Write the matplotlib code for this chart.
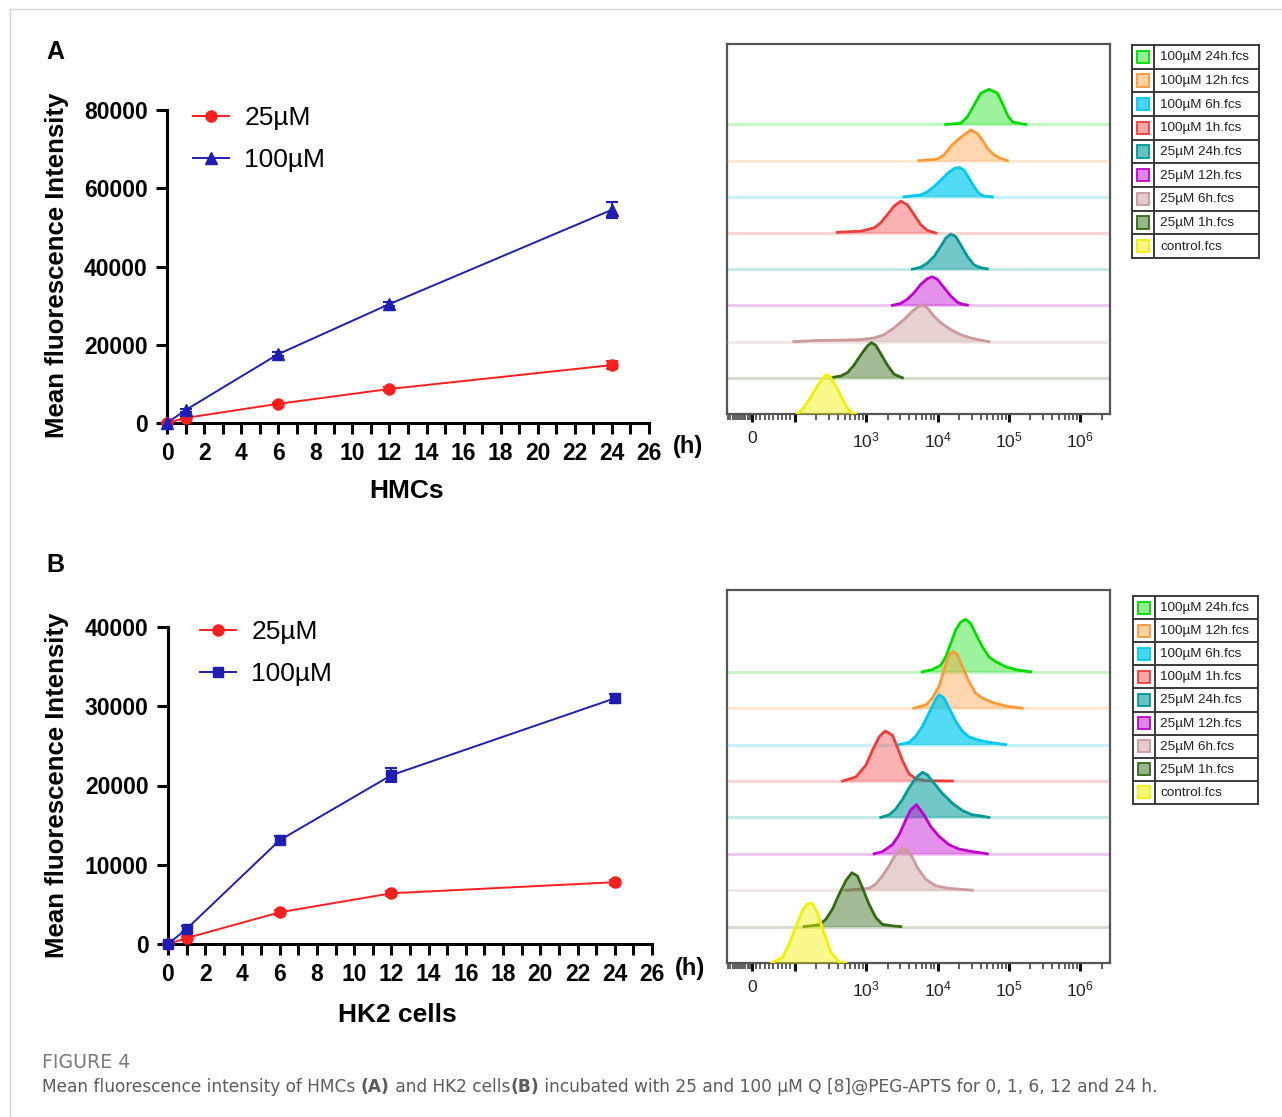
import numpy as np
import matplotlib
matplotlib.use('Agg')
import matplotlib.pyplot as plt
from matplotlib.patches import Rectangle
from matplotlib.lines import Line2D

plt.rcParams['font.family'] = ['Liberation Sans', 'DejaVu Sans']
plt.rcParams['mathtext.fontset'] = 'custom'
plt.rcParams['mathtext.rm'] = 'Liberation Sans'

# ---------------- line-chart data ----------------
time_h = [0, 1, 6, 12, 24]
hmc_25 = [0, 1300, 4900, 8700, 14800]
hmc_25_err = [0, 300, 300, 400, 1000]
hmc_100 = [0, 3300, 17600, 30400, 54500]
hmc_100_err = [0, 400, 500, 600, 2000]
hk2_25 = [0, 750, 4000, 6400, 7800]
hk2_25_err = [0, 300, 300, 300, 300]
hk2_100 = [0, 1900, 13100, 21300, 31000]
hk2_100_err = [0, 400, 500, 900, 600]

# ---------------- flow histogram data ----------------
hist_labels = ['100µM 24h.fcs', '100µM 12h.fcs', '100µM 6h.fcs', '100µM 1h.fcs',
               '25µM 24h.fcs', '25µM 12h.fcs', '25µM 6h.fcs', '25µM 1h.fcs', 'control.fcs']
hist_line_colors = ['#00dd00', '#ff9933', '#00c8f0', '#f03c3c', '#009a9a',
                    '#c000d0', '#cc9a9a', '#336b14', '#f0f000']
hist_fill_alpha = [0.38, 0.40, 0.68, 0.40, 0.55, 0.43, 0.45, 0.45, 0.45]

# log10 fluorescence positions and counts (% of row spacing), rows top -> bottom
hmc_log_x = [
    [4.115, 4.325, 4.419, 4.511, 4.605, 4.721, 4.839, 4.909, 4.979, 5.049, 5.141, 5.235],
    [3.742, 3.998, 4.091, 4.185, 4.278, 4.371, 4.465, 4.558, 4.628, 4.698, 4.791, 4.885, 4.979],
    [3.531, 3.765, 3.858, 3.951, 4.045, 4.138, 4.231, 4.301, 4.371, 4.441, 4.511, 4.581, 4.651, 4.768],
    [2.598, 2.924, 3.111, 3.204, 3.298, 3.391, 3.485, 3.578, 3.671, 3.765, 3.858, 3.975],
    [3.648, 3.765, 3.858, 3.951, 4.045, 4.115, 4.185, 4.255, 4.325, 4.419, 4.511, 4.605, 4.698],
    [3.368, 3.485, 3.578, 3.671, 3.765, 3.858, 3.928, 3.998, 4.091, 4.185, 4.278, 4.348, 4.419],
    [1.99, 2.318, 2.644, 2.924, 3.111, 3.251, 3.391, 3.531, 3.648, 3.742, 3.788, 3.858, 3.951,
     4.045, 4.185, 4.325, 4.465, 4.605, 4.721],
    [2.504, 2.644, 2.738, 2.831, 2.924, 3.018, 3.074, 3.134, 3.204, 3.298, 3.391, 3.508],
    [2.037, 2.131, 2.224, 2.318, 2.411, 2.448, 2.504, 2.598, 2.691, 2.784, 2.854],
]
hmc_counts = [
    [0, 3, 21, 53, 86, 97, 86, 58, 26, 7, 3, 0],
    [0, 4, 16, 39, 57, 71, 85, 75, 57, 34, 16, 6, 0],
    [0, 5, 14, 28, 46, 64, 78, 81, 74, 51, 28, 9, 2, 0],
    [2, 5, 14, 28, 51, 74, 88, 78, 51, 23, 7, 0],
    [0, 5.5, 17, 35, 63, 86, 97, 90, 67, 35, 12, 4, 1],
    [0, 5.5, 17, 35, 58, 74, 79, 72, 49, 26, 9, 3, 1],
    [0, 3, 4, 5.5, 10, 19, 38, 61, 84, 98, 101, 93, 70, 52, 33, 19, 10, 4, 0],
    [0, 5, 14, 35, 63, 88, 97, 90, 67, 35, 10, 0],
    [0, 18, 46, 78, 103, 109, 101, 69, 32, 5, 0],
]
hk2_log_x = [
    [3.788, 3.927, 4.045, 4.115, 4.185, 4.255, 4.325, 4.394, 4.464, 4.534, 4.627, 4.72, 4.814,
     4.954, 5.094, 5.303],
    [3.671, 3.835, 3.927, 4.021, 4.091, 4.161, 4.217, 4.277, 4.347, 4.441, 4.534, 4.627, 4.767,
     4.954, 5.186],
    [3.462, 3.601, 3.695, 3.788, 3.881, 3.975, 4.021, 4.091, 4.161, 4.255, 4.347, 4.441, 4.58,
     4.767, 4.954],
    [2.669, 2.856, 2.996, 3.088, 3.182, 3.252, 3.275, 3.368, 3.438, 3.508, 3.601, 3.695, 3.835, 4.207],
    [3.205, 3.322, 3.415, 3.508, 3.601, 3.695, 3.788, 3.858, 3.951, 4.067, 4.207, 4.347, 4.487,
     4.58, 4.72],
    [3.112, 3.228, 3.368, 3.462, 3.555, 3.625, 3.704, 3.811, 3.905, 4.021, 4.161, 4.301, 4.487, 4.697],
    [2.716, 3.042, 3.135, 3.228, 3.322, 3.415, 3.508, 3.531, 3.625, 3.718, 3.835, 3.975, 4.161, 4.487],
    [2.133, 2.343, 2.436, 2.529, 2.622, 2.716, 2.8, 2.879, 2.948, 3.042, 3.135, 3.228, 3.368, 3.485],
    [1.66, 1.857, 1.94, 2.017, 2.11, 2.18, 2.25, 2.32, 2.413, 2.507, 2.622, 2.716],
]
hk2_counts = [
    [0, 6, 18, 41, 78, 115, 137, 144, 133, 105, 69, 41, 28, 14, 6, 0],
    [0, 9, 28, 60, 105, 147, 156, 147, 115, 73, 41, 28, 16, 6, 0],
    [0, 6, 23, 50, 87, 124, 137, 128, 101, 64, 37, 21, 12, 5, 0],
    [0, 11, 43, 84, 121, 135, 137, 126, 93, 57, 20, 6, 1, 0],
    [0, 7, 23, 49, 81, 108, 124, 117, 94, 66, 39, 19, 7, 5, 0],
    [0, 6, 25, 52, 93, 121, 135, 107, 75, 48, 25, 13, 6, 0],
    [0, 5, 17, 39, 67, 99, 114, 115, 99, 62, 30, 12, 5, 0],
    [0, 5, 20, 48, 89, 126, 148, 139, 107, 61, 25, 6, 2, 0],
    [0, 16, 53, 99, 145, 163, 163, 136, 81, 30, 3, 0],
]

W, H = 1282, 1117
fig = plt.figure(figsize=(W / 100, H / 100), dpi=100)
renderer = fig.canvas.get_renderer()


def fx(px):
    return px / W


def fy(py):
    return 1 - py / H


# thin page frame
fig.add_artist(Line2D([fx(10), 1], [fy(9), fy(9)], color='#d4d4d4', lw=1))
fig.add_artist(Line2D([fx(10), fx(10)], [fy(9), 0], color='#d4d4d4', lw=1))


def line_panel(x0, x1, y_top, y_bot, y25, e25, y100, e100, ymax, ystep, m100, ms100,
               xlabel, xlab_pos, h_pos, ylab_pos, leg_pos):
    ax = fig.add_axes([fx(x0), fy(y_bot), fx(x1 - x0), (y_bot - y_top) / H])
    red = '#ff1e1e'
    blue = '#1e1eb4'
    ax.errorbar(time_h, y25, yerr=e25, fmt='none', ecolor=red, elinewidth=1.5, capsize=4,
                capthick=1.5, clip_on=False)
    ax.errorbar(time_h, y100, yerr=e100, fmt='none', ecolor=blue, elinewidth=1.5, capsize=4,
                capthick=1.5, clip_on=False)
    l1, = ax.plot(time_h, y25, color=red, lw=1.4, marker='o', ms=8, clip_on=False, zorder=3)
    l2, = ax.plot(time_h, y100, color=blue, lw=1.4, marker=m100, ms=ms100, clip_on=False, zorder=3)
    ax.set_xlim(0, 26)
    ax.set_ylim(0, ymax)
    for s in ['top', 'right']:
        ax.spines[s].set_visible(False)
    for s in ['left', 'bottom']:
        ax.spines[s].set_linewidth(2.2)
    ax.set_xticks(range(0, 27, 2))
    ax.set_xticks(range(1, 27, 2), minor=True)
    ax.set_yticks(np.arange(0, ymax + 1, ystep))
    ax.tick_params(which='both', direction='out', length=8, width=2.2, labelsize=16.5, pad=6)
    ax.tick_params(axis='x', which='major', pad=6)
    for lab in ax.get_xticklabels() + ax.get_yticklabels():
        lab.set_fontweight('bold')
    ax.patch.set_alpha(0)
    fig.text(fx(xlab_pos[0]), fy(xlab_pos[1]), xlabel, ha='center', va='center',
             fontsize=19, fontweight='bold')
    fig.text(fx(h_pos[0]), fy(h_pos[1]), '(h)', ha='center', va='center',
             fontsize=17, fontweight='bold')
    fig.text(fx(ylab_pos[0]), fy(ylab_pos[1]), 'Mean fluorescence Intensity', ha='center',
             va='center', rotation=90, fontsize=18.5, fontweight='bold')
    ax.legend([l1, l2], ['25µM', '100µM'], loc='upper left',
              bbox_to_anchor=(fx(leg_pos[0]), fy(leg_pos[1])), bbox_transform=fig.transFigure,
              frameon=False, fontsize=19, handlelength=1.35, handletextpad=0.6,
              labelspacing=0.68, borderpad=0, borderaxespad=0)
    return ax


line_panel(167, 649, 110, 423, hmc_25, hmc_25_err, hmc_100, hmc_100_err, 80000, 20000, '^', 8,
           'HMCs', (407, 491), (688, 446), (57, 265), (193, 106))
line_panel(168, 652, 627, 944, hk2_25, hk2_25_err, hk2_100, hk2_100_err, 40000, 10000, 's', 7.5,
           'HK2 cells', (397, 1015), (690, 969), (57, 785), (200, 620))

fig.text(fx(46), fy(52), 'A', fontsize=18, fontweight='bold', va='center')
fig.text(fx(46), fy(565), 'B', fontsize=18, fontweight='bold', va='center')


def hist_panel(x0, x1, y_top, y_bot, logx, counts, spacing_px):
    ax = fig.add_axes([fx(x0), fy(y_bot), fx(x1 - x0), (y_bot - y_top) / H])
    ax.set_xscale('symlog', linthresh=100, linscale=0.54)
    ax.set_xlim(-58, 2.6e6)
    ax.set_ylim(0, (y_bot - y_top) / spacing_px * 100)
    n = len(logx)
    for i in range(n):
        base = (n - 1 - i) * 100
        c = hist_line_colors[i]
        xv = 10 ** np.array(logx[i])
        yv = base + np.array(counts[i])
        if i < n - 1:
            ax.axhline(base, color=c, alpha=0.22, lw=2.2, zorder=2 + i)
        ax.fill_between(xv, base, yv, color=c, alpha=hist_fill_alpha[i], lw=0, zorder=2 + i)
        ax.plot(xv, yv, color=c, lw=2.0, zorder=2 + i, solid_joinstyle='round')
    for s in ax.spines.values():
        s.set_color('#555555')
        s.set_linewidth(1.6)
    ax.set_yticks([])
    ax.set_xticks([0, 1e2, 1e3, 1e4, 1e5, 1e6])
    ax.set_xticklabels(['0', '', r'$\mathregular{10^3}$', r'$\mathregular{10^4}$',
                        r'$\mathregular{10^5}$', r'$\mathregular{10^6}$'])
    minor = [-55, -50, -45, -40, -35, -30, -25, -20, -15, -10, -5,
             10, 20, 30, 40, 50, 60, 70, 80, 90]
    for k in range(2, 6):
        minor += [m * 10 ** k for m in range(2, 10)]
    minor += [2e6]
    ax.set_xticks(minor, minor=True)
    ax.tick_params(axis='x', which='major', direction='out', length=6, width=2.2,
                   color='#111111', labelsize=12.5, labelcolor='#222222', pad=6)
    ax.tick_params(axis='x', which='minor', direction='out', length=4, width=1.1,
                   color='#333333')
    return ax


hist_panel(727, 1110, 44, 414, hmc_log_x, hmc_counts, 36.2)
hist_panel(727, 1110, 590, 963, hk2_log_x, hk2_counts, 36.4)


def table(x0, x1, y0, y1):
    tax = fig.add_axes([fx(x0), fy(y1), fx(x1 - x0), (y1 - y0) / H])
    n = len(hist_labels)
    tax.set_xlim(0, 1)
    tax.set_ylim(n, 0)
    tax.axis('off')
    col = '#3a3a3a'
    for i in range(n + 1):
        tax.plot([0, 1], [i, i], color=col, lw=1.4, clip_on=False)
    for xx in [0, 0.175, 1]:
        tax.plot([xx, xx], [0, n], color=col, lw=1.4, clip_on=False)
    wpx = x1 - x0
    sw = 12 / wpx
    for i, lab in enumerate(hist_labels):
        c = hist_line_colors[i]
        tax.add_patch(Rectangle((0.0875 - sw / 2, i + 0.24), sw, 0.52, facecolor=c,
                                alpha=min(1, hist_fill_alpha[i] + 0.05), lw=0))
        tax.add_patch(Rectangle((0.0875 - sw / 2, i + 0.24), sw, 0.52, facecolor='none',
                                edgecolor=c, lw=1.3))
        tax.text(0.22, i + 0.52, lab, va='center', ha='left', fontsize=9.7, color='#222222')


table(1132, 1259, 45, 258)
table(1133, 1258, 596, 804)

# ---------------- caption ----------------
cap_font = ['DejaVu Sans']
fig_t = fig.text(fx(42), fy(1062), 'FIGURE 4', fontsize=10, color='#7a7a7a', va='center',
                 family=cap_font)
w0 = fig_t.get_window_extent(renderer=renderer).width
fig_t.set_fontsize(10 * 88 / w0)

parts = [('Mean fluorescence intensity of HMCs ', 'normal'), ('(A)', 'bold'),
         (' and HK2 cells', 'normal'), ('(B)', 'bold'),
         (' incubated with 25 and 100 µM Q [8]@PEG-APTS for 0, 1, 6, 12 and 24 h.', 'normal')]
cap_texts = [fig.text(0, fy(1092), t, fontsize=10, color='#5c5c5c', va='baseline',
                      fontweight=wt, family=cap_font) for t, wt in parts]
total = sum(t.get_window_extent(renderer=renderer).width for t in cap_texts)
size = 10 * 1116 / total
x_cur = fx(42)
for t in cap_texts:
    t.set_fontsize(size)
    t.set_x(x_cur)
    x_cur += t.get_window_extent(renderer=renderer).width / W

fig.savefig('out.png', dpi=100)
